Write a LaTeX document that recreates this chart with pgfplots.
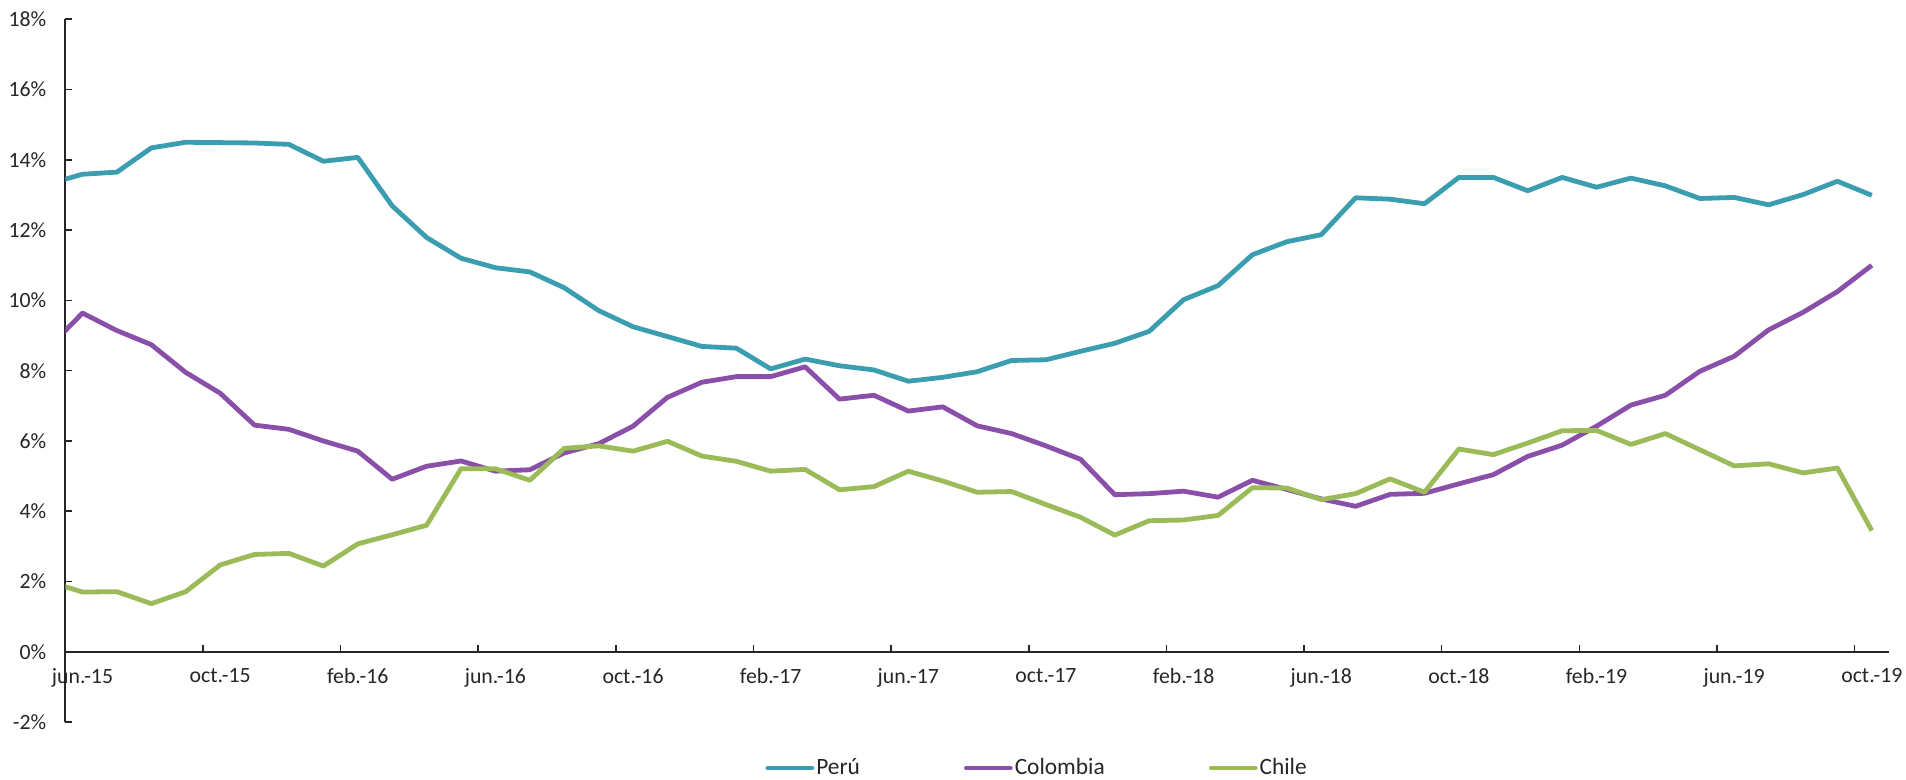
\documentclass[border=0pt]{standalone}
\usepackage{fontspec}
\setmainfont{Carlito}
\usepackage{pgfplots}
\usepackage{pgfplotstable}
\pgfplotsset{compat=1.18}
\definecolor{peru}{HTML}{3B9DB0}
\definecolor{colombia}{HTML}{8A4FA8}
\definecolor{chile}{HTML}{9BBB59}
\definecolor{axisc}{HTML}{262626}
\pgfplotstableread{
k    peru   col    chile
-1   13.31  8.64   2.00
0    13.59  9.64   1.70
1    13.65  9.14   1.71
2    14.34  8.74   1.37
3    14.50  7.95   1.71
4    14.49  7.36   2.47
5    14.48  6.45   2.77
6    14.44  6.33   2.80
7    13.96  6.00   2.44
8    14.07  5.71   3.07
9    12.69  4.91   3.33
10   11.79  5.28   3.60
11   11.20  5.43   5.21
12   10.93  5.14   5.21
13   10.81  5.18   4.88
14   10.36  5.66   5.79
15   9.71   5.92   5.86
16   9.25   6.42   5.71
17   8.97   7.24   5.99
18   8.69   7.67   5.57
19   8.64   7.83   5.42
20   8.05   7.83   5.14
21   8.33   8.11   5.19
22   8.14   7.19   4.61
23   8.02   7.30   4.70
24   7.70   6.85   5.14
25   7.81   6.97   4.86
26   7.97   6.43   4.54
27   8.29   6.21   4.56
28   8.31   5.86   4.19
29   8.55   5.48   3.83
30   8.78   4.47   3.32
31   9.12   4.50   3.73
32   10.02  4.57   3.75
33   10.42  4.40   3.88
34   11.30  4.88   4.67
35   11.67  4.62   4.66
36   11.87  4.35   4.33
37   12.92  4.14   4.50
38   12.88  4.48   4.92
39   12.75  4.51   4.54
40   13.50  4.78   5.77
41   13.50  5.04   5.61
42   13.12  5.56   5.94
43   13.50  5.88   6.29
44   13.22  6.42   6.30
45   13.48  7.02   5.90
46   13.26  7.30   6.21
47   12.90  7.98   5.75
48   12.93  8.41   5.29
49   12.72  9.16   5.35
50   13.01  9.66   5.09
51   13.39  10.25  5.23
52   12.99  11.00  3.45
}\datatable
\begin{document}
\begin{tikzpicture}
\useasboundingbox (-32.65pt,-28.5pt) rectangle (920.4pt,361.05pt);
\begin{axis}[
  scale only axis,
  width=911.9pt, height=351.4pt,
  xmin=-0.5, xmax=52.5,
  ymin=-2, ymax=18,
  axis x line=middle,
  axis y line=left,
  axis line style={-, draw=axisc, line width=0.8pt},
  hide obscured x ticks=false,
  hide obscured y ticks=false,
  tick align=inside,
  major tick length=3.5pt,
  tick style={draw=axisc, line width=0.8pt},
  xtick={3.5,7.5,...,51.5},
  xticklabels={},
  extra x ticks={0,4,...,52},
  extra x tick labels={jun.-15,oct.-15,feb.-16,jun.-16,oct.-16,feb.-17,jun.-17,oct.-17,feb.-18,jun.-18,oct.-18,feb.-19,jun.-19,oct.-19},
  extra x tick style={tick style={draw=none}},
  xticklabel style={font=\fontsize{10.9}{13}\selectfont, text=axisc, yshift=-5pt},
  ytick={-2,0,...,18},
  yticklabels={-2\%,0\%,2\%,4\%,6\%,8\%,10\%,12\%,14\%,16\%,18\%},
  yticklabel style={font=\fontsize{10.9}{13}\selectfont, text=axisc, xshift=-6pt},
  /pgf/number format/assume math mode=true,
  legend columns=3,
  legend style={
    at={(0.3837,-0.0655)}, anchor=west,
    draw=none, fill=none, inner sep=0pt,
    font=\fontsize{11.7}{14}\selectfont,
    nodes={inner xsep=1pt, inner ysep=1pt, text=axisc},
    /tikz/every even column/.append style={column sep=51pt},
  },
  legend image code/.code={\draw[#1, line cap=round] (0pt,0pt) -- (22pt,0pt);},
  every axis plot/.append style={line width=2.4pt, line join=round},
]
\addplot[color=peru, no markers] table[x=k, y=peru] {\datatable};
\addlegendentry{Perú}
\addplot[color=colombia, no markers] table[x=k, y=col] {\datatable};
\addlegendentry{Colombia}
\addplot[color=chile, no markers] table[x=k, y=chile] {\datatable};
\addlegendentry{Chile}
\end{axis}
\end{tikzpicture}
\end{document}
